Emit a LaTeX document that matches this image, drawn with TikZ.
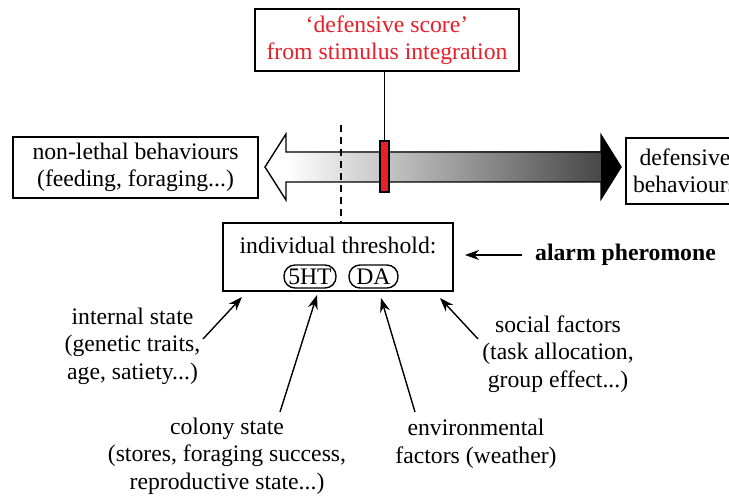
\documentclass[tikz,border=0pt]{standalone}
\usepackage{fontspec}
\setmainfont{Liberation Serif}
\usetikzlibrary{arrows.meta}
\definecolor{defred}{RGB}{232,30,40}
\begin{document}
\begin{tikzpicture}[x=1pt,y=-1pt,
  font=\fontsize{23.7}{27.5}\selectfont,
  box/.style={draw, line width=1.4pt, inner sep=0pt, align=center},
  oval/.style={draw, line width=1.4pt, rounded corners=11pt, inner sep=0pt, minimum height=23pt},
  lbl/.style={align=center, inner sep=0pt},
  arr/.style={line width=1.4pt, -{Stealth[length=14pt,width=10pt]}}]
\useasboundingbox (0,0) rectangle (729,497);
\clip (0,0) rectangle (729,497);

% top box
\node[box, text=defred, minimum width=264pt, minimum height=62pt] (score) at (387,40)
  {`defensive score'\\from stimulus integration};

% side boxes
\node[box, minimum width=245pt, minimum height=61pt] (nonlethal) at (135.5,167.5)
  {non-lethal behaviours\\(feeding, foraging...)};
\node[box, minimum width=118pt, minimum height=66pt] (defensive) at (685,171)
  {defensive\\behaviours};

% double arrow
\shade[left color=white, right color=black!72] (286,152) rectangle (601,182);
\fill[black] (601,135) -- (621,167) -- (601,199) -- cycle;
\draw[line width=1.4pt, line join=miter]
  (265,167) -- (286,134) -- (286,152) -- (601,152) -- (601,135) -- (621,167)
  -- (601,199) -- (601,182) -- (286,182) -- (286,200) -- cycle;

% threshold box
\node[box, minimum width=230pt, minimum height=68pt] (thr) at (338,257) {};
\node[lbl] (thrtxt) at (338,245) {individual threshold:};
\node[oval, minimum width=52pt] (sht) at (310,276.5) {5HT};
\node[oval, minimum width=49pt] (da) at (373.5,276.5) {DA};

% dashed threshold line
\coordinate (dtop) at (341,125);
\draw[line width=1.4pt, dash pattern=on 7pt off 5pt] (dtop) -- (dtop |- thr.north);

% red marker
\node[draw, line width=1.3pt, fill=defred, minimum width=9pt, minimum height=51pt, inner sep=0pt] (marker) at (384.5,166.5) {};
\draw[line width=1.4pt] (marker.north |- score.south) -- (marker.north);

% alarm pheromone
\node[lbl, anchor=west, font=\fontsize{23.7}{27.5}\selectfont\bfseries] (alarm) at (535,255) {alarm pheromone};
\coordinate (alarmtail) at (522,255);
\coordinate (alarmtip) at (465,255);
\draw[arr] (alarmtail) -- (alarmtip);

% factor labels
\node[lbl] (internal) at (132.5,346) {internal state\\(genetic traits,\\age, satiety...)};
\node[lbl] (colony) at (227,456) {colony state\\(stores, foraging success,\\reproductive state...)};
\node[lbl] (env) at (476,444) {environmental\\factors (weather)};
\node[lbl] (social) at (558,354) {social factors\\(task allocation,\\group effect...)};

\coordinate (intail) at (203,339);  \coordinate (intip) at (242,297);
\coordinate (cotail) at (280,412);  \coordinate (cotip) at (317,295);
\coordinate (entail) at (415,412);  \coordinate (entip) at (381,298);
\coordinate (sotail) at (478,339);  \coordinate (sotip) at (440,298);
\draw[arr] (intail) -- (intip);
\draw[arr] (cotail) -- (cotip);
\draw[arr] (entail) -- (entip);
\draw[arr] (sotail) -- (sotip);
\end{tikzpicture}
\end{document}
